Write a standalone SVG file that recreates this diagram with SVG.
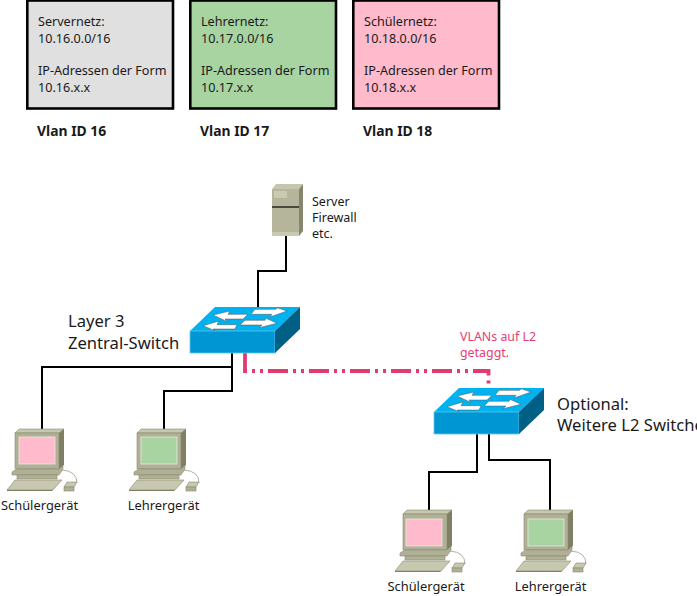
<svg xmlns="http://www.w3.org/2000/svg" width="697" height="596" viewBox="0 0 697 596">
<style>
text{font-family:"Noto Sans","Open Sans",sans-serif;font-size:12.6px;fill:#1a1a1a}
.b{font-weight:700;font-size:13.9px}
.l{font-size:16.6px}
.s{font-size:12.5px}
.d{font-size:12.9px}
.p{fill:#e63e74;font-size:12.4px}
.box{stroke:#000;stroke-width:2.6}
.wire{stroke:#000;stroke-width:2;fill:none}
.tag{stroke:#e23a6e;stroke-width:3.8;fill:none;stroke-dasharray:20 5 3 5 3 5}
.pc1{fill:#b0b096;stroke:#8a8a70;stroke-width:.6}
.pc2{fill:#7f7f66}
.pc3{fill:#c8c8b0;stroke:#8a8a70;stroke-width:.6}
.scr{stroke:#e8e8e0;stroke-width:.8}
</style>
<defs>
<g id="sw">
<polygon points="0,24 25,0 110,0 85,24" fill="#00b2f0"/>
<rect x="0" y="24" width="85" height="22" fill="#0096d4" stroke="#5cc8ee" stroke-width=".8"/>
<polygon points="85,24 110,0 110,22 85,46" fill="#005f85"/>
<g fill="#fff" stroke="#555" stroke-width=".5" stroke-linejoin="round">
<polygon points="23,8 40,4 38,7.3 58,7.3 53,12 35,12 37,14.5"/>
<polygon points="97,4 87,.7 86,2.3 65,2.3 61,7.3 82,7.3 80,10"/>
<polygon points="13,18.7 29,14 27,17.7 47,17.7 45,22 23,22 25,23.7"/>
<polygon points="87,16.3 76,11.3 75,13.3 55,13.3 50,18 72,18 69,20.7"/>
</g>
</g>
<g id="pc">
<path d="M62 470Q77 471 77 483" fill="none" stroke="#b0b0a0" stroke-width="1"/>
<polygon points="15,433 19,429 64,429 59,433" class="pc3"/>
<polygon points="59,433 64,429 64,465 59,469" class="pc2"/>
<rect x="15" y="433" width="44" height="36" class="pc1"/>
<polygon points="12,472 17,469 59,469 63,466 63,469 59,475 12,475" class="pc1"/>
<rect x="17" y="475" width="40" height="4" class="pc1"/>
<polygon points="7,490 15,480 62,480 53,490" class="pc3"/>
<polygon points="7,490 53,490 52,491 7,491" class="pc2"/>
<polygon points="64,487 67,482 77,482 74,487" class="pc3"/>
<rect x="64" y="487" width="10" height="4" class="pc1"/>
</g>
</defs>

<g id="net-server">
<rect x="27.3" y="0.5" width="145.7" height="108" fill="#e0e0e0" class="box"/>
<text x="38" y="26">Servernetz:</text><text x="38" y="43">10.16.0.0/16</text>
<text x="38" y="75">IP-Adressen der Form</text><text x="38" y="92">10.16.x.x</text>
<text x="37" y="136" class="b">Vlan ID 16</text>
</g>
<g id="net-lehrer">
<rect x="190.3" y="0.5" width="145.7" height="108" fill="#a8d4a2" class="box"/>
<text x="201" y="26">Lehrernetz:</text><text x="201" y="43">10.17.0.0/16</text>
<text x="201" y="75">IP-Adressen der Form</text><text x="201" y="92">10.17.x.x</text>
<text x="200" y="136" class="b">Vlan ID 17</text>
</g>
<g id="net-schueler">
<rect x="353.3" y="0.5" width="145.7" height="108" fill="#ffbbcc" class="box"/>
<text x="364" y="26">Schülernetz:</text><text x="364" y="43">10.18.0.0/16</text>
<text x="364" y="75">IP-Adressen der Form</text><text x="364" y="92">10.18.x.x</text>
<text x="363" y="136" class="b">Vlan ID 18</text>
</g>

<g id="connectors">
<path class="wire" d="M286 236V271H258V307"/>
<path class="wire" d="M232 353V367H42V429"/>
<path class="wire" d="M232 353V391H164V429"/>
<path class="wire" d="M477 434V472H429V510"/>
<path class="wire" d="M489 434V460H550V510"/>
<path class="tag" d="M245 353V371H488.5V388"/>
</g>

<g id="server">
<polygon points="272,189 276,184 303,184 299,189" fill="#c6c6ae"/>
<polygon points="299,189 303,184 303,231 299,236" fill="#86866c"/>
<rect x="272" y="189" width="27" height="47" fill="#b5b59b"/>
<rect x="272" y="232" width="27" height="4" fill="#cacab2"/>
<rect x="272" y="206" width="27" height="2" fill="#4a4a3c"/>
<rect x="274" y="191" width="13" height="7" fill="#cacab2"/>
<text x="312" y="206" class="s">Server</text><text x="312" y="222" class="s">Firewall</text><text x="312" y="238" class="s">etc.</text>
</g>

<g id="switch-l3">
<use href="#sw" x="190" y="307"/>
<text x="68" y="327" class="l">Layer 3</text><text x="68" y="349" class="l">Zentral-Switch</text>
</g>
<g id="switch-l2">
<use href="#sw" x="434" y="388"/>
<text x="557" y="410" class="l">Optional:</text><text x="557" y="431" class="l">Weitere L2 Switches</text>
</g>
<text x="460" y="341" class="p">VLANs auf L2</text>
<text x="460" y="357" class="p">getaggt.</text>

<g id="pc-schueler-1">
<use href="#pc"/>
<rect x="19" y="437" width="36" height="27" fill="#ffbbcc" class="scr"/>
<text x="39.5" y="510" text-anchor="middle" class="d">Schülergerät</text>
</g>
<g id="pc-lehrer-1">
<use href="#pc" x="122"/>
<rect x="141" y="437" width="36" height="27" fill="#a8d4a2" class="scr"/>
<text x="163.5" y="510" text-anchor="middle" class="d">Lehrergerät</text>
</g>
<g id="pc-schueler-2">
<use href="#pc" x="388" y="81"/>
<rect x="406" y="519" width="36" height="27" fill="#ffbbcc" class="scr"/>
<text x="426" y="591" text-anchor="middle" class="d">Schülergerät</text>
</g>
<g id="pc-lehrer-2">
<use href="#pc" x="509" y="81"/>
<rect x="528" y="519" width="36" height="27" fill="#a8d4a2" class="scr"/>
<text x="550.5" y="591" text-anchor="middle" class="d">Lehrergerät</text>
</g>
</svg>
